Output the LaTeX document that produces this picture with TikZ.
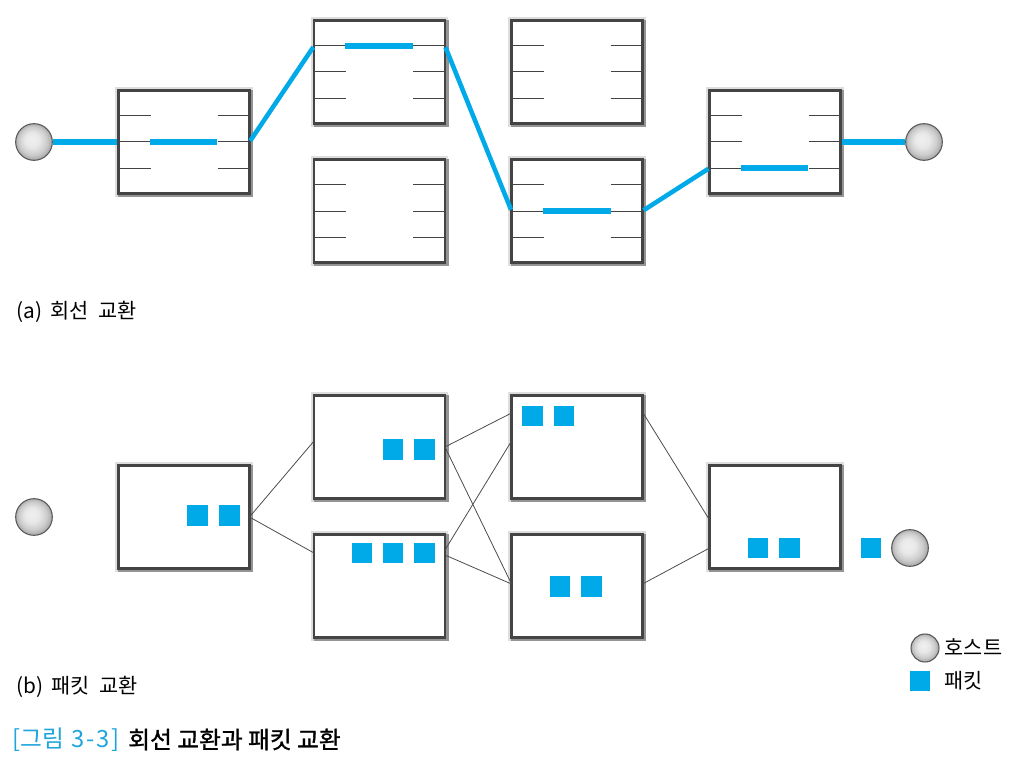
\documentclass[tikz,border=0pt]{standalone}
\usepackage{fontspec}
\setmainfont{Noto Sans CJK KR}
\usetikzlibrary{calc}
\definecolor{pblue}{RGB}{0,170,232}
\definecolor{capblue}{RGB}{30,165,220}
\definecolor{boxline}{RGB}{68,68,68}
\pgfdeclareradialshading{hostball}{\pgfpoint{-4bp}{4bp}}{
 color(0bp)=(black!6); color(10bp)=(black!9); color(19bp)=(black!20); color(26bp)=(black!36); color(32bp)=(black!50)}
\tikzset{
 x=0.75pt,y=-0.75pt,
 switchbox/.style={rectangle,draw=boxline,line width=1.9pt,fill=white,inner sep=0pt,outer sep=0pt,
   minimum width=98.2pt,minimum height=77.3pt,
   preaction={draw=black!13,line width=5pt},
   preaction={draw=black!42,line width=3pt,transform canvas={shift={(1.2pt,-1.2pt)}}}},
 host/.style={circle,draw=black!65,line width=0.8pt,shading=hostball,inner sep=0pt,minimum size=27.5pt},
 smallhost/.style={host,minimum size=21pt},
 packet/.style={rectangle,fill=pblue,inner sep=0pt,minimum width=15.5pt,minimum height=15.5pt},
 circuit/.style={draw=pblue,line width=4.2pt},
 diag/.style={draw=pblue,line width=3.4pt,shorten >=1pt,shorten <=1pt},
 portline/.style={draw=boxline,line width=0.75pt},
 link/.style={draw=black!70,line width=0.6pt},
 label/.style={anchor=west,inner sep=0pt,font=\fontsize{15.6pt}{18pt}\selectfont},
 captiontext/.style={anchor=west,inner sep=0pt,font=\fontsize{17.8pt}{20pt}\selectfont}
}
\newcommand{\portsA}[1]{%
 \foreach \dy in {-26.5,0,26.5}{
  \draw[portline] ($(#1.center)+(-65.5,\dy)$) -- ($(#1.center)+(-33.5,\dy)$);
  \draw[portline] ($(#1.center)+(33.5,\dy)$) -- ($(#1.center)+(65.5,\dy)$);
 }}
\begin{document}
\begin{tikzpicture}
\useasboundingbox (0,0) rectangle (1017,763);
% (a)
\node[switchbox] (a1) at (184,142) {};
\node[switchbox] (a2) at (379.5,72) {};
\node[switchbox] (a3) at (577,72) {};
\node[switchbox] (a4) at (379.5,211) {};
\node[switchbox] (a5) at (577,211) {};
\node[switchbox] (a6) at (775,142) {};
\portsA{a1}\portsA{a2}\portsA{a3}\portsA{a4}\portsA{a5}\portsA{a6}
\coordinate (a1m) at (a1.east);
\coordinate (a2in) at ($(a2.west)+(0,-26)$);
\coordinate (a2out) at ($(a2.east)+(0,-26)$);
\coordinate (a5in) at (a5.west);
\coordinate (a5out) at (a5.east);
\coordinate (a6in) at ($(a6.west)+(0,26)$);
\node[host] (h1) at (34,142) {};
\node[host] (h2) at (924,142) {};
\draw[circuit,shorten >=1pt] (h1) -- (a1.west);
\draw[circuit] ($(a1.center)+(-34,0)$) -- ($(a1.center)+(33,0)$);
\draw[diag] (a1m) -- (a2in);
\draw[circuit] ($(a2.center)+(-35,-26)$) -- ($(a2.center)+(33.5,-26)$);
\draw[diag] (a2out) -- (a5in);
\draw[circuit] ($(a5.center)+(-34,0)$) -- ($(a5.center)+(34,0)$);
\draw[diag] (a5out) -- (a6in);
\draw[circuit] ($(a6.center)+(-34,26)$) -- ($(a6.center)+(33,26)$);
\draw[circuit,shorten <=1pt] (a6.east) -- (h2);
\node[label] (la) at (16,311.5) {(a)\hspace{6pt}회선\hspace{7.5pt}교환};
% (b)
\node[switchbox] (b1) at (184,517) {};
\node[switchbox] (b2) at (379.5,447) {};
\node[switchbox] (b3) at (577,447) {};
\node[switchbox] (b4) at (379.5,586) {};
\node[switchbox] (b5) at (577,586) {};
\node[switchbox] (b6) at (775,517) {};
\node[host] (h3) at (34,517) {};
\node[host] (h4) at (910,548) {};
\draw[link] (b1.east) -- ($(b2.west)+(0,-6)$);
\draw[link] (b1.east) -- ($(b4.west)+(0,-33)$);
\draw[link] ($(b2.east)$) -- ($(b3.west)+(0,-34)$);
\draw[link] ($(b2.east)$) -- ($(b5.west)+(0,-2)$);
\draw[link] ($(b4.east)+(0,-36)$) -- ($(b3.west)+(0,-6)$);
\draw[link] ($(b4.east)+(0,-31)$) -- ($(b5.west)+(0,-2)$);
\draw[link] ($(b3.east)+(0,-35)$) -- ($(b6.west)+(0,3)$);
\draw[link] ($(b5.east)+(0,-2)$) -- ($(b6.west)+(0,31)$);
\node[packet] (p1) at (197.5,515.5) {};
\node[packet] (p2) at (229.5,515.5) {};
\node[packet] (p3) at (393,449.5) {};
\node[packet] (p4) at (424.5,449.5) {};
\node[packet] (p5) at (532.5,416) {};
\node[packet] (p6) at (564,416) {};
\node[packet] (p7) at (362,553) {};
\node[packet] (p8) at (393,553) {};
\node[packet] (p9) at (424.5,553) {};
\node[packet] (p10) at (560,586.5) {};
\node[packet] (p11) at (591.5,586.5) {};
\node[packet] (p12) at (758,548) {};
\node[packet] (p13) at (789.5,548) {};
\node[packet] (p14) at (871,548) {};
\node[label] (lb) at (16,686.5) {(b)\hspace{6pt}패킷\hspace{7.5pt}교환};
% legend
\node[smallhost] (lh) at (925,648) {};
\node[label] (lht) at (944.5,647.5) {호스트};
\node[packet] (lp) at (920,681) {};
\node[label] (lpt) at (944.5,681) {패킷};
% caption
\node[captiontext,text=capblue] (c1) at (12,739.5) {[그림\hspace{1.5pt} 3\hspace{1.5pt}-\hspace{1.5pt}3\hspace{1pt}]};
\node[captiontext] (c2) at (128,739.5) {\addfontfeature{FakeBold=1.2}회선 교환과 패킷 교환};
\end{tikzpicture}
\end{document}
